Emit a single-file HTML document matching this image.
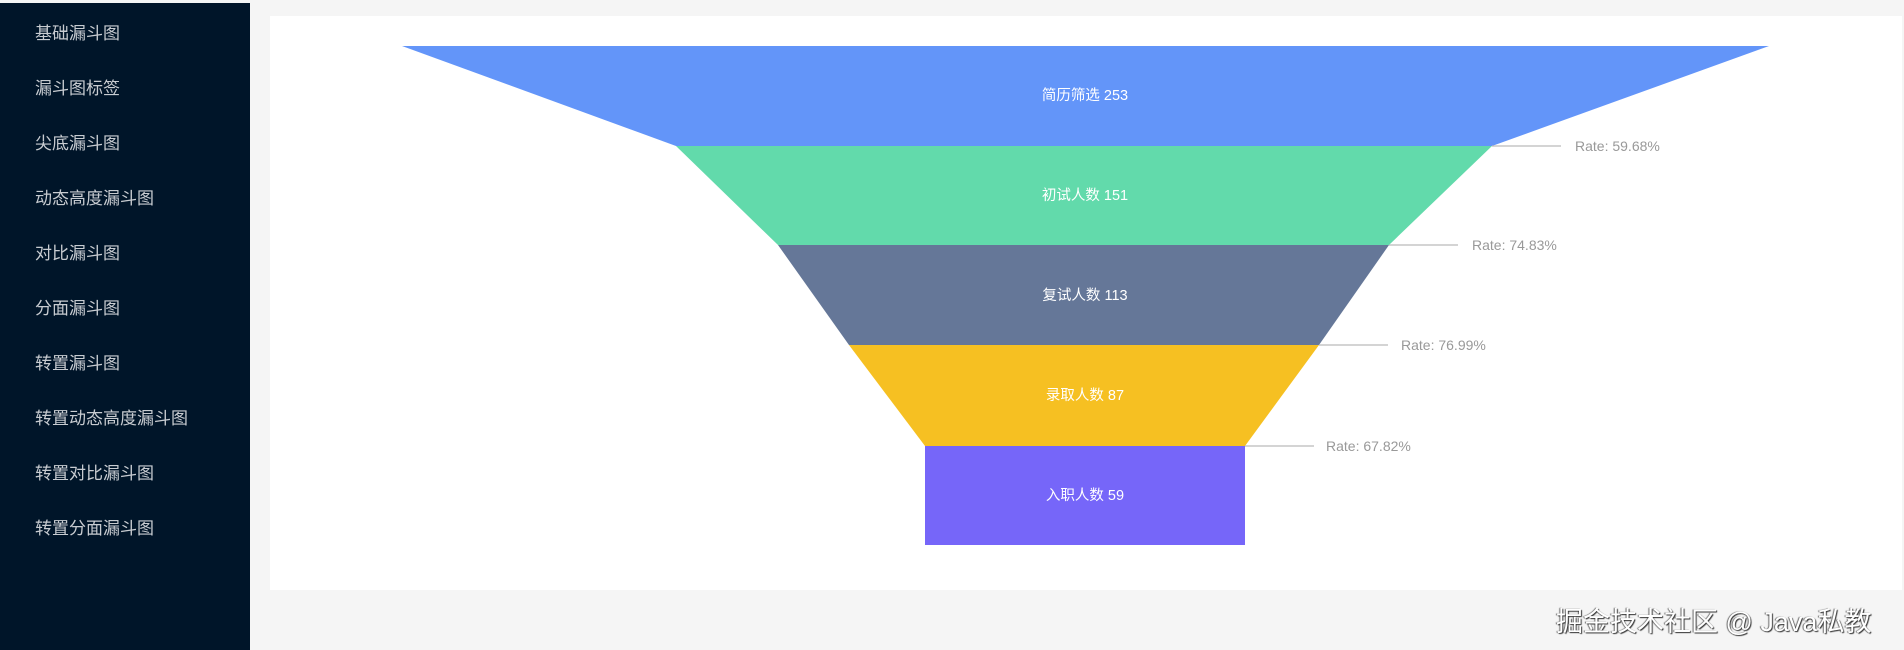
<!DOCTYPE html>
<html><head><meta charset="utf-8"><style>
html,body{margin:0;padding:0;width:1904px;height:650px;overflow:hidden;background:#f5f5f5;font-family:"Liberation Sans","Noto Sans CJK SC",sans-serif;}
.side{position:absolute;left:0;top:3px;width:250px;height:647px;background:#001529;}
.side div{position:absolute;left:35px;color:#c8ccd1;font-size:17px;line-height:20px;}
.card{position:absolute;left:270px;top:16px;width:1632px;height:574px;background:#fff;}
.wm{position:absolute;left:1556px;top:600px;font-size:27px;color:#fff;text-shadow:1px 1px 1px #333,-1px 0 1px #666;white-space:nowrap;font-family:"Liberation Sans","Noto Sans CJK SC",sans-serif;}
</style></head><body>
<div class="side">
<div style="top:21px">基础漏斗图</div>
<div style="top:76px">漏斗图标签</div>
<div style="top:131px">尖底漏斗图</div>
<div style="top:186px">动态高度漏斗图</div>
<div style="top:241px">对比漏斗图</div>
<div style="top:296px">分面漏斗图</div>
<div style="top:351px">转置漏斗图</div>
<div style="top:406px">转置动态高度漏斗图</div>
<div style="top:461px">转置对比漏斗图</div>
<div style="top:516px">转置分面漏斗图</div>
</div>
<div class="card"></div>
<svg width="1904" height="650" style="position:absolute;left:0;top:0" font-family="Liberation Sans, Noto Sans CJK SC, sans-serif">
<polygon points="402,46 1769,46 1492,146 676,146" fill="#6395f9"/>
<polygon points="676,146 1492,146 1389,245 778,245" fill="#62daab"/>
<polygon points="778,245 1389,245 1319,345 849,345" fill="#657798"/>
<polygon points="849,345 1319,345 1245,446 925,446" fill="#f6c022"/>
<rect x="925" y="446" width="320" height="99" fill="#7666f9"/>
<g fill="#fff" font-size="14.5" text-anchor="middle">
<text x="1085" y="100">简历筛选 253</text>
<text x="1085" y="200">初试人数 151</text>
<text x="1085" y="300">复试人数 113</text>
<text x="1085" y="400">录取人数 87</text>
<text x="1085" y="500">入职人数 59</text>
</g>
<g stroke="#bbb" stroke-width="1.2">
<line x1="1492" y1="146" x2="1561" y2="146"/>
<line x1="1389" y1="245" x2="1458" y2="245"/>
<line x1="1319" y1="345" x2="1388" y2="345"/>
<line x1="1245" y1="446" x2="1314" y2="446"/>
</g>
<g fill="#999" font-size="14">
<text x="1575" y="151">Rate: 59.68%</text>
<text x="1472" y="250">Rate: 74.83%</text>
<text x="1401" y="350">Rate: 76.99%</text>
<text x="1326" y="451">Rate: 67.82%</text>
</g>
</svg>
<div class="wm">掘金技术社区 @ Java私教</div>
</body></html>
